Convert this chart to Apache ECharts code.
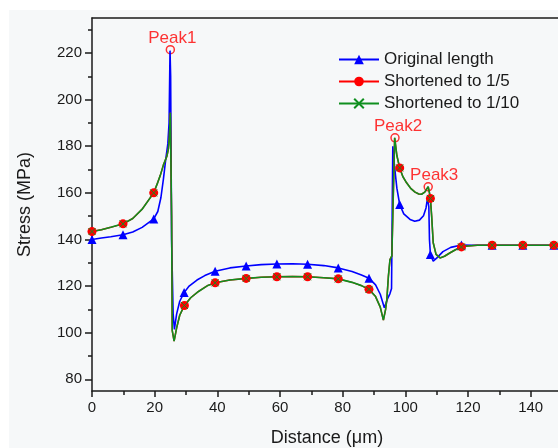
<!DOCTYPE html>
<html>
<head>
<meta charset="utf-8">
<script src="https://cdn.jsdelivr.net/npm/echarts@6/dist/echarts.min.js"></script>
<style>
  html, body { margin: 0; padding: 0; background: #ffffff; }
  #panel { position: absolute; left: 9px; top: 10px; right: 0; bottom: 0; background: #f6f8f9; }
  #chart { position: absolute; left: 0; top: 0; width: 558px; height: 448px; }
</style>
</head>
<body>
<div id="panel"></div>
<div id="chart"></div>
<script>
// Stress profile along the distance for three interconnect lengths
const distOriginal = [0,3,6,9.9,13,16,19.7,21,22,22.8,23.5,24.2,24.6,24.9,25.1,25.4,25.9,26.3,27,28,29.4,31,33.5,36,39.3,44,49.2,54,59,64,68.8,74,78.6,83,86,88.4,90.5,92,93.3,94.3,95.1,95.6,95.8,96,96.5,97.3,98.2,99.5,101.5,103,104.5,105.8,106.6,107.1,107.5,107.7,108,108.9,110,112,114.5,117.9,122,127.7,132,137.5,142,147.4,150];
const stressOriginal = [140,140.6,141.2,142,143.2,145.2,148.8,152,158,166,174,181,190,221,210,140,108,101.4,108,113.5,117.2,120,122.6,124.5,126.4,127.8,128.6,129.2,129.5,129.6,129.4,128.8,127.8,126.3,124.8,123.4,120.5,116.5,110.7,114.5,116.8,119,150,180,172,162,155,151,148.6,147.8,148.3,150.2,153.5,157.8,154,140,133.6,130.7,132,134.8,136.6,137.6,137.5,137.5,137.5,137.5,137.5,137.5,137.5];

const distShort5 = [0,3,6,9.9,13,16,19.7,21,21.8,22.8,23.9,24.4,24.7,25,25.4,25.6,26.2,27,28,29.5,31.5,34,37,39.3,44,49.2,54,59,64,68.8,74,78.6,83,86,88.4,90.5,92,93,93.7,94.1,94.6,95.1,95.7,96,96.6,97.3,98.2,99.2,100.4,101.8,103.1,104.3,105.2,106.2,106.8,107.3,107.7,108,108.4,108.9,109.8,111.1,112.5,114.3,116,117.9,120,123,127.7,132,137.5,142,147.4,150];
const stressShort5 = [143.4,144.2,145.2,146.7,149,153,160,164.5,167.5,172,175.7,179,184,194.3,150,101,96.4,102,107.5,111.7,115,117.7,120.3,121.4,122.6,123.3,123.8,124,124.1,124,123.6,123.1,121.6,120.2,118.6,115.5,111,105.4,110,114.3,124.3,131.4,133,150,183.6,176,170.7,167,164.3,161.8,160.3,159.5,159.4,160.3,161.6,162.6,160,157.6,150,138.6,133.6,132.1,132.8,134.3,135.6,136.8,137.2,137.5,137.5,137.5,137.5,137.5,137.5,137.5];

const distShort10 = [0,3,6,9.9,13,16,19.7,21,21.8,22.8,23.9,24.4,24.7,25,25.4,25.6,26.2,27,28,29.5,31.5,34,37,39.3,44,49.2,54,59,64,68.8,74,78.6,83,86,88.4,90.5,92,93,93.7,94.1,94.6,95.1,95.7,96,96.6,97.3,98.2,99.2,100.4,101.8,103.1,104.3,105.2,106.2,106.8,107.3,107.7,108,108.4,108.9,109.8,111.1,112.5,114.3,116,117.9,120,123,127.7,132,137.5,142,147.4,150];
const stressShort10 = [143.4,144.2,145.2,146.7,149,153,160,164.5,167.5,172,175.7,179,184,194.3,150,101,96.4,102,107.5,111.7,115,117.7,120.3,121.4,122.6,123.3,123.8,124,124.1,124,123.6,123.1,121.6,120.2,118.6,115.5,111,105.4,110,114.3,124.3,131.4,133,150,183.6,176,170.7,167,164.3,161.8,160.3,159.5,159.4,160.3,161.6,162.6,160,157.6,150,138.6,133.6,132.1,132.8,134.3,135.6,136.8,137.2,137.5,137.5,137.5,137.5,137.5,137.5,137.5];

// Distances where the series symbols are drawn
const markerDist = [0,9.9,19.7,29.45,39.3,49.2,59,68.8,78.6,88.4,98.2,108,117.9,127.7,137.5,147.4];

// Annotated stress peaks
const peakNames = ['Peak1','Peak2','Peak3'];
const peakDist = [25.0, 96.7, 107.3];
const peakStress = [221.4, 183.6, 162.6];

// Axis ticks
const xMajor = [0,20,40,60,80,100,120,140];
const xMinor = [10,30,50,70,90,110,130];
const yMajor = [80,100,120,140,160,180,200,220];
const yMinor = [90,110,130,150,170,190,210,230];

const FONT = '"Liberation Sans", Arial, sans-serif';
const INK = '#1a1a1a';

function buildPoints(dist, stress) {
  return dist.map(function (d, i) {
    const marked = markerDist.some(function (m) { return Math.abs(m - d) < 0.12; });
    return marked ? { value: [d, stress[i]] } : { value: [d, stress[i]], symbol: 'none' };
  });
}

const chart = echarts.init(document.getElementById('chart'), null, { renderer: 'canvas' });

const axisLineStyle = { color: INK, width: 1.5 };

chart.setOption({
  animation: false,
  backgroundColor: 'transparent',
  textStyle: { fontFamily: FONT },
  grid: { left: 92, right: -4, top: 18, bottom: 57, containLabel: false, outerBoundsMode: 'none' },
  legend: {
    orient: 'vertical',
    left: 338,
    top: 51,
    padding: 0,
    itemWidth: 40,
    itemHeight: 12,
    itemGap: 5,
    textStyle: { fontSize: 17, color: INK, fontFamily: FONT },
    data: ['Original length', 'Shortened to 1/5', 'Shortened to 1/10']
  },
  xAxis: [
    {
      type: 'value', min: 0, max: 150, position: 'bottom',
      name: 'Distance (\u03bcm)', nameLocation: 'middle', nameGap: 38,
      nameTextStyle: { fontSize: 18, color: INK, fontFamily: FONT },
      axisLine: { show: true, lineStyle: axisLineStyle },
      axisTick: { show: true, customValues: xMajor, length: 6, lineStyle: axisLineStyle },
      axisLabel: { customValues: xMajor, fontSize: 15, color: INK, margin: 9, fontFamily: FONT },
      splitLine: { show: false }
    },
    {
      type: 'value', min: 0, max: 150, position: 'bottom',
      axisLine: { show: false },
      axisTick: { show: true, customValues: xMinor, length: 4, lineStyle: axisLineStyle },
      axisLabel: { show: false },
      splitLine: { show: false }
    },
    {
      type: 'value', min: 0, max: 150, position: 'top',
      axisLine: { show: true, lineStyle: axisLineStyle },
      axisTick: { show: false },
      axisLabel: { show: false },
      splitLine: { show: false }
    }
  ],
  yAxis: [
    {
      type: 'value', min: 75, max: 235, position: 'left',
      name: 'Stress (MPa)', nameLocation: 'middle', nameGap: 58,
      nameTextStyle: { fontSize: 18, color: INK, fontFamily: FONT },
      axisLine: { show: true, lineStyle: axisLineStyle },
      axisTick: { show: true, customValues: yMajor, length: 7, lineStyle: axisLineStyle },
      axisLabel: { customValues: yMajor, fontSize: 15, color: INK, margin: 10, fontFamily: FONT },
      splitLine: { show: false }
    },
    {
      type: 'value', min: 75, max: 235, position: 'left',
      axisLine: { show: false },
      axisTick: { show: true, customValues: yMinor, length: 4, lineStyle: axisLineStyle },
      axisLabel: { show: false },
      splitLine: { show: false }
    }
  ],
  series: [
    {
      name: 'Original length', type: 'line', xAxisIndex: 0, yAxisIndex: 0,
      data: buildPoints(distOriginal, stressOriginal),
      symbol: 'triangle', symbolSize: 9, showSymbol: true,
      lineStyle: { color: '#0000ff', width: 1.6 },
      itemStyle: { color: '#0000ff' }
    },
    {
      name: 'Shortened to 1/5', type: 'line', xAxisIndex: 0, yAxisIndex: 0,
      data: buildPoints(distShort5, stressShort5),
      symbol: 'circle', symbolSize: 9, showSymbol: true,
      lineStyle: { color: '#ff0000', width: 1.5 },
      itemStyle: { color: '#ff0000' }
    },
    {
      name: 'Shortened to 1/10', type: 'line', xAxisIndex: 0, yAxisIndex: 0,
      data: buildPoints(distShort10, stressShort10),
      symbol: 'path://M0,0L10,10M10,0L0,10', symbolSize: 7, showSymbol: true,
      lineStyle: { color: '#0f8f1f', width: 1.6 },
      itemStyle: { color: 'transparent', borderColor: '#0f8f1f', borderWidth: 1 }
    },
    {
      name: 'peaks', type: 'scatter', xAxisIndex: 0, yAxisIndex: 0,
      symbol: 'circle', symbolSize: 8,
      itemStyle: { color: 'transparent', borderColor: '#ff0000', borderWidth: 1.5 },
      label: {
        show: true, position: 'top', distance: -2, formatter: '{b}',
        color: '#ff0000', fontSize: 17, fontFamily: FONT
      },
      data: peakNames.map(function (n, i) {
        return { name: n, value: [peakDist[i], peakStress[i]], label: { offset: [i === 0 ? 2 : (i === 1 ? 3 : 6), 0] } };
      })
    }
  ]
});
</script>
</body>
</html>
